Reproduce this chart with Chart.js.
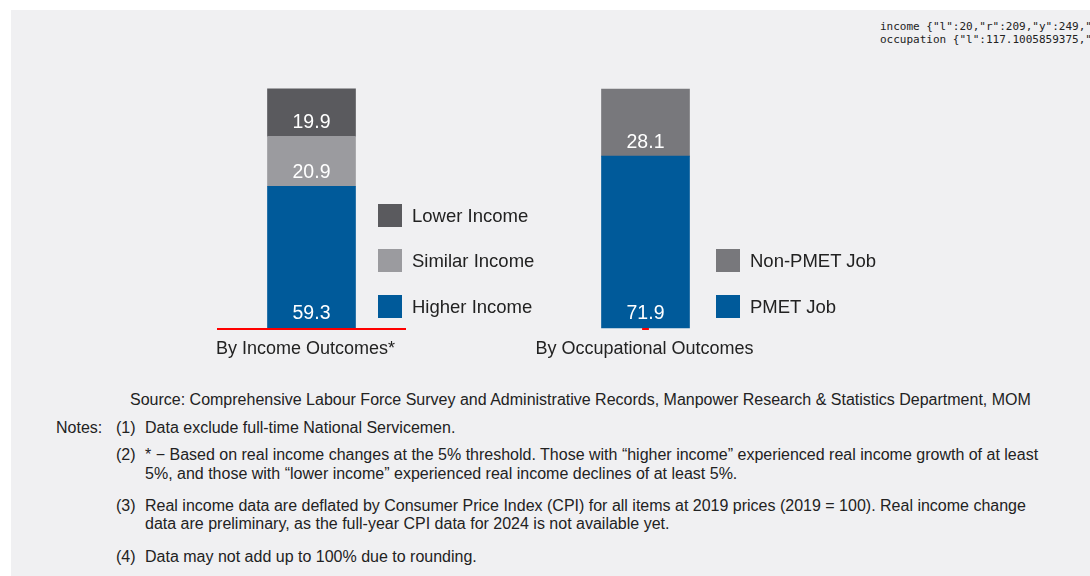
<!DOCTYPE html>
<html>
<head>
<meta charset="utf-8">
<script src="https://cdn.jsdelivr.net/npm/chart.js@4.4.1/dist/chart.umd.min.js"></script>
<style>
  body { margin: 0; background: #fff; font-family: "Liberation Sans", Arial, sans-serif; color: #222; }
  #panel { position: absolute; left: 11px; top: 10px; width: 1079px; height: 566px; background: #f0f0f2; }
  .box { position: absolute; }
  .legend-item { position: absolute; height: 23px; font-size: 18.5px; line-height: 23px; white-space: nowrap; }
  .legend-item span.sw { position: absolute; left: 0; top: 0; width: 24px; height: 23px; }
  .legend-item span.tx { position: absolute; left: 34px; top: 0; }
  .note { position: absolute; font-size: 16px; line-height: 20px; white-space: nowrap; }
</style>
</head>
<body>
<div id="panel"></div>

<div class="box" style="left:197px; top:79px; width:229px; height:300px;"><canvas id="income"></canvas></div>
<div class="box" style="left:525px; top:79px; width:241px; height:300px;"><canvas id="occupation"></canvas></div>

<div id="legend-income"></div>
<div id="legend-occupation"></div>
<pre id="dbg" style="position:absolute; left:880px; top:20px; font-size:11px; margin:0;"></pre>

<div class="note" style="left:130px; top:390px;">Source: Comprehensive Labour Force Survey and Administrative Records, Manpower Research &amp; Statistics Department, MOM</div>
<div class="note" style="left:56px; top:418px;">Notes:</div>
<div class="note" style="left:116px; top:418px;">(1)</div>
<div class="note" style="left:145px; top:418px;">Data exclude full-time National Servicemen.</div>
<div class="note" style="left:116px; top:445px;">(2)</div>
<div class="note" style="left:145px; top:445px;">* − Based on real income changes at the 5% threshold. Those with “higher income” experienced real income growth of at least</div>
<div class="note" style="left:145px; top:464px;">5%, and those with “lower income” experienced real income declines of at least 5%.</div>
<div class="note" style="left:116px; top:496px;">(3)</div>
<div class="note" style="left:145px; top:496px;">Real income data are deflated by Consumer Price Index (CPI) for all items at 2019 prices (2019 = 100). Real income change</div>
<div class="note" style="left:145px; top:514px;">data are preliminary, as the full-year CPI data for 2024 is not available yet.</div>
<div class="note" style="left:116px; top:547px;">(4)</div>
<div class="note" style="left:145px; top:547px;">Data may not add up to 100% due to rounding.</div>

<script>
const incomeCategories = ["By Income Outcomes*"];
const incomeSeries = ["Higher Income", "Similar Income", "Lower Income"];
const incomeValues = [59.3, 20.9, 19.9];
const incomeColors = ["#005a9a", "#9b9b9f", "#5a5a5e"];

const occupationCategories = ["By Occupational Outcomes"];
const occupationSeries = ["PMET Job", "Non-PMET Job"];
const occupationValues = [71.9, 28.1];
const occupationColors = ["#005a9a", "#78787c"];

const FONT = "'Liberation Sans', Arial, sans-serif";

// baseline under the bars, across the whole x scale at value 0
const baseline = {
  id: "baseline",
  afterDraw(chart) {
    const { ctx, scales } = chart;
    const y = Math.round(scales.y.getPixelForValue(0));
    ctx.save();
    ctx.fillStyle = "#ff0000";
    ctx.fillRect(scales.x.left, y, scales.x.right - scales.x.left, 2);
    ctx.restore();
    document.getElementById("dbg").textContent += chart.canvas.id + " " + JSON.stringify({
      l: scales.x.left, r: scales.x.right, y, cw: chart.width, ch: chart.height,
      cs: chart.canvas.style.width + "x" + chart.canvas.style.height,
      px: chart.canvas.width + "x" + chart.canvas.height,
    }) + "\n";
  }
};

// white number near the bottom of every segment
const segmentLabels = {
  id: "segmentLabels",
  afterDatasetsDraw(chart) {
    const ctx = chart.ctx;
    ctx.save();
    ctx.fillStyle = "#ffffff";
    ctx.font = "19.5px " + FONT;
    ctx.textAlign = "center";
    ctx.textBaseline = "middle";
    chart.data.datasets.forEach((ds, i) => {
      chart.getDatasetMeta(i).data.forEach((bar, j) => {
        ctx.fillText(ds.data[j].toFixed(1), bar.x, bar.base - 14);
      });
    });
    ctx.restore();
  }
};

function makeChart(id, categories, series, values, colors, sidePad, labelShift) {
  const datasets = series.map((name, i) => ({
    label: name,
    data: [values[i]],
    backgroundColor: colors[i],
    borderWidth: 0,
    barThickness: 88,
  }));

  return new Chart(document.getElementById(id), {
    type: "bar",
    data: { labels: categories, datasets },
    plugins: [baseline, segmentLabels],
    options: {
      responsive: true,
      maintainAspectRatio: false,
      animation: false,
      layout: {
        autoPadding: false,
        padding: { top: 10, bottom: 9.4, left: sidePad, right: sidePad },
      },
      plugins: { legend: { display: false }, tooltip: { enabled: false } },
      scales: {
        x: {
          stacked: true,
          grid: { display: false, drawTicks: false },
          border: { display: false },
          ticks: {
            color: "#222",
            padding: 10,
            maxRotation: 0,
            autoSkip: false,
            labelOffset: labelShift,
            font: { family: FONT, size: 18 },
          },
        },
        y: {
          stacked: true,
          display: false,
          min: 0,
          max: 100,
        },
      },
      datasets: { bar: { clip: false } },
    },
  });
}

makeChart("income", incomeCategories, incomeSeries, incomeValues, incomeColors, 20, -6);
makeChart("occupation", occupationCategories, occupationSeries, occupationValues, occupationColors, 60, -1);

// legends, top item is the top segment
function makeLegend(id, left, tops, series, colors) {
  const holder = document.getElementById(id);
  const order = series.map((_, i) => i).reverse();
  order.forEach((idx, k) => {
    const item = document.createElement("div");
    item.className = "legend-item";
    item.style.left = left + "px";
    item.style.top = tops[k] + "px";
    item.innerHTML = '<span class="sw" style="background:' + colors[idx] + '"></span><span class="tx">' + series[idx] + "</span>";
    holder.appendChild(item);
  });
}

makeLegend("legend-income", 378, [204, 249, 295], incomeSeries, incomeColors);
makeLegend("legend-occupation", 716, [249, 295], occupationSeries, occupationColors);
</script>
</body>
</html>
